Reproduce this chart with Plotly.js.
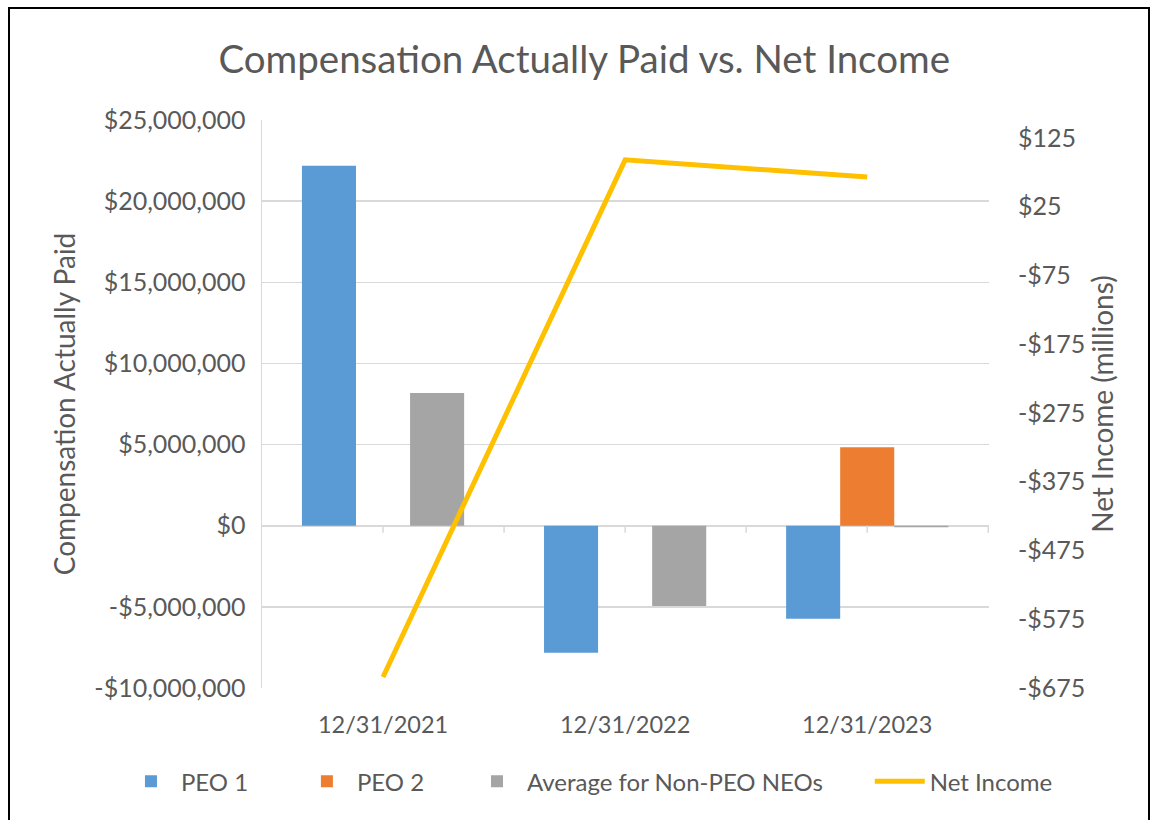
<!DOCTYPE html>
<html>
<head>
<meta charset="utf-8">
<script src="https://cdn.plot.ly/plotly-3.0.1.min.js"></script>
<style>
  html, body { margin: 0; padding: 0; background: #fff; }
  #wrap { position: relative; width: 1150px; height: 820px; overflow: hidden; }
  #chart { position: absolute; left: 0; top: 0; width: 1150px; height: 820px; }
  #frame { position: absolute; left: 8px; top: 7px; width: 1138px; height: 830px; border: 2px solid #000; pointer-events: none; }
</style>
</head>
<body>
<div id="wrap">
  <div id="chart"></div>
  <div id="frame"></div>
</div>
<script>
// ---- Data ----
const categories = ["12/31/2021", "12/31/2022", "12/31/2023"];
const peo1 = [22180000, -7830000, -5730000];
const peo2 = [null, null, 4830000];
const avgNonPeo = [8180000, -4950000, -90000];
const netIncome = [-659, 93, 68]; // millions

const leftTickVals = [-10000000, -5000000, 0, 5000000, 10000000, 15000000, 20000000, 25000000];
const leftTickText = ["-$10,000,000", "-$5,000,000", "$0", "$5,000,000", "$10,000,000", "$15,000,000", "$20,000,000", "$25,000,000"];
const rightTickVals = [-675, -575, -475, -375, -275, -175, -75, 25, 125];
const rightTickText = ["-$675", "-$575", "-$475", "-$375", "-$275", "-$175", "-$75", "$25", "$125"];

// ---- Styles ----
const FONT = "Lato, 'Open Sans', sans-serif";
const TXT = "#595959";
const GRID = "#D9D9D9";

const traces = [
  { type: "bar", name: "PEO 1", x: categories, y: peo1, marker: { color: "#5B9BD5" }, legend: "legend" },
  { type: "bar", name: "PEO 2", x: categories, y: peo2, marker: { color: "#ED7D31" }, legend: "legend2" },
  { type: "bar", name: "Average for Non-PEO NEOs", x: categories, y: avgNonPeo, marker: { color: "#A5A5A5" }, legend: "legend3" },
  { type: "scatter", mode: "lines", name: "Net Income", x: categories, y: netIncome, yaxis: "y2",
    line: { color: "#FFC000", width: 5 }, legend: "legend4" }
];

const tickPositions = [0, 0.5, 1, 1.5, 2, 2.5];
const shapes = tickPositions.map(p => ({
  type: "line", xref: "x", yref: "y", ysizemode: "pixel", yanchor: 0,
  x0: p, x1: p, y0: 0, y1: -7, line: { color: GRID, width: 1.5 }
}));

function legendAt(x) {
  return { orientation: "h", x: x, xanchor: "left", y: -0.165, yanchor: "middle",
           font: { family: FONT, size: 24, color: TXT }, itemwidth: 50, bgcolor: "rgba(0,0,0,0)" };
}

const layout = {
  width: 1150, height: 820,
  margin: { l: 262, r: 161, t: 120, b: 132 },
  paper_bgcolor: "#fff", plot_bgcolor: "#fff",
  font: { family: FONT, color: TXT, size: 24 },
  title: { text: "Compensation Actually Paid vs. Net Income", x: 0.508, xanchor: "center", y: 0.928, yanchor: "middle",
           font: { family: FONT, size: 38.5, color: TXT } },
  barmode: "group", bargap: 0.33, bargroupgap: 0,
  showlegend: true,
  legend: legendAt(-0.194),
  legend2: legendAt(0.048),
  legend3: legendAt(0.282),
  legend4: legendAt(0.836),
  xaxis: { type: "category", categoryorder: "array", categoryarray: categories,
           showgrid: false, showline: false, zeroline: false, ticks: "",
           tickfont: { family: FONT, size: 23.5, color: TXT }, ticklabelstandoff: 20 },
  yaxis: { range: [-10000000, 25000000], tickvals: leftTickVals, ticktext: leftTickText,
           showgrid: true, gridcolor: GRID, gridwidth: 1.5,
           showline: true, linecolor: GRID, linewidth: 1.5,
           zeroline: true, zerolinecolor: GRID, zerolinewidth: 2,
           ticks: "", ticklabelstandoff: 10,
           tickfont: { family: FONT, size: 25, color: TXT },
           title: { text: "Compensation Actually Paid", font: { family: FONT, size: 28, color: TXT }, standoff: 10 } },
  yaxis2: { overlaying: "y", side: "right", range: [-675, 151],
            tickvals: rightTickVals, ticktext: rightTickText,
            showgrid: false, showline: false, zeroline: false, ticks: "",
            ticklabelstandoff: 28,
            tickfont: { family: FONT, size: 25, color: TXT },
            title: { text: "Net Income (millions)", font: { family: FONT, size: 28, color: TXT }, standoff: 6 } },
  shapes: shapes
};

Plotly.newPlot("chart", traces, layout, { staticPlot: true, displayModeBar: false });
</script>
</body>
</html>
